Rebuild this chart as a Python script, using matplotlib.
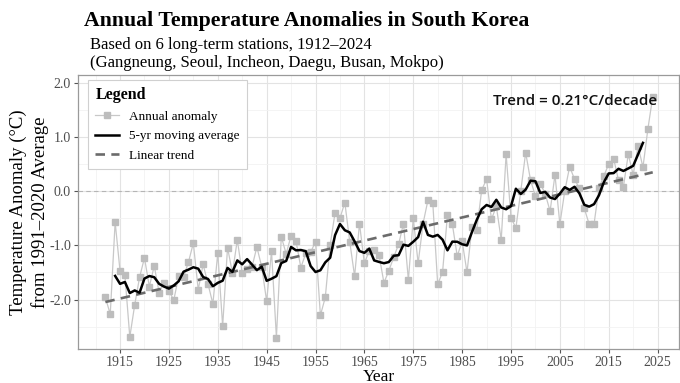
import numpy as np
import pandas as pd
import matplotlib
matplotlib.use('Agg')
import matplotlib.pyplot as plt
from matplotlib.lines import Line2D

# Annual mean temperature anomaly (deg C) vs. 1991-2020 normal, 6-station mean
years = np.arange(1912, 2025)
anomaly = [
    -1.96, -2.27, -0.57, -1.47, -1.55, -2.69, -2.10, -1.59, -1.23, -1.76,  # 1912-1921
    -1.38, -1.87, -1.70, -1.84, -2.01, -1.57, -1.58, -1.31, -0.96, -1.82,  # 1922-1931
    -1.35, -1.71, -2.08, -1.14, -2.49, -1.04, -1.51, -0.90, -1.51, -1.43,  # 1932-1941
    -1.40, -1.03, -1.40, -2.03, -1.11, -2.70, -0.84, -1.16, -0.82, -0.92,  # 1942-1951
    -1.41, -1.15, -1.13, -0.93, -2.29, -1.96, -0.99, -0.40, -0.50, -0.21,  # 1952-1961
    -0.93, -1.57, -0.60, -1.33, -1.10, -1.09, -1.18, -1.69, -1.47, -1.22,  # 1962-1971
    -0.98, -0.60, -1.64, -0.50, -1.33, -0.60, -0.17, -0.22, -1.72, -1.49,  # 1972-1981
    -0.44, -0.61, -1.20, -0.92, -1.50, -0.67, -0.72, 0.02, 0.22, -0.52,    # 1982-1991
    -0.28, -0.90, 0.68, -0.49, -0.68, 0.00, 0.71, 0.20, -0.09, 0.14,       # 1992-2001
    -0.05, -0.37, 0.30, -0.61, 0.00, 0.45, 0.22, 0.05, -0.32, -0.61,       # 2002-2011
    -0.60, 0.05, 0.28, 0.50, 0.60, 0.20, 0.08, 0.68, 0.30, 0.83,           # 2012-2021
    0.44, 1.14, 1.74,                                                      # 2022-2024
]

x_ticks = [1915, 1925, 1935, 1945, 1955, 1965, 1975, 1985, 1995, 2005, 2015, 2025]
y_ticks = [-2.0, -1.0, 0.0, 1.0, 2.0]

series = pd.Series(anomaly, index=years)
ma5 = series.rolling(5, center=True).mean()
slope, intercept = np.polyfit(years, anomaly, 1)
trend = intercept + slope * years

plt.rcParams['font.family'] = ['Liberation Serif', 'DejaVu Serif']

fig = plt.figure(figsize=(6.8, 3.83), dpi=100)
ax = fig.add_axes([0.1147, 0.089, 0.884, 0.715])

# grid
ax.set_xticks(x_ticks)
ax.set_xticks(np.arange(1910, 2031, 10), minor=True)
ax.set_yticks(y_ticks)
ax.set_yticks([-2.5, -1.5, -0.5, 0.5, 1.5], minor=True)
ax.grid(which='major', color='#e3e3e3', linewidth=0.8)
ax.grid(which='minor', color='#f2f2f2', linewidth=0.6)
ax.set_axisbelow(True)

ax.axhline(0, color='#b5b5b5', linewidth=0.8, linestyle=(0, (4, 3)), zorder=1)

ax.plot(years, anomaly, color='#c8c8c8', linewidth=0.9, marker='s',
        markersize=4.3, markerfacecolor='#bdbdbd', markeredgecolor='#bdbdbd', zorder=2)
ax.plot(years, trend, color='#6b6b6b', linewidth=1.9, dashes=(3.6, 2.4), zorder=3)
ax.plot(ma5.index, ma5.values, color='black', linewidth=1.8, zorder=4)

ax.text(2025, 1.67, 'Trend = {:.2f}°C/decade'.format(slope * 10),
        ha='right', va='center', fontsize=11, family=['Open Sans', 'DejaVu Sans'],
        fontweight='semibold', color='#111111')

ax.set_xlim(1906.4, 2029.4)
ax.set_ylim(-2.91, 2.14)
ax.set_xticklabels([str(t) for t in x_ticks])
ax.set_yticklabels(['{:.1f}'.format(t) for t in y_ticks])
ax.tick_params(which='major', length=3, color='#555555', labelcolor='#4d4d4d',
               labelsize=10, pad=2)
ax.tick_params(which='minor', length=0)
for sp in ax.spines.values():
    sp.set_color('#9a9a9a')
    sp.set_linewidth(0.9)

ax.set_xlabel('Year', fontsize=12.5, labelpad=0)
ax.set_ylabel('Temperature Anomaly (°C)\nfrom 1991–2020 Average', fontsize=13.5,
              linespacing=1.3)
ax.yaxis.set_label_coords(-0.049, 0.5)

handles = [
    Line2D([], [], color='#c8c8c8', linewidth=0.9, marker='s', markersize=4.3,
           markerfacecolor='#bdbdbd', markeredgecolor='#bdbdbd'),
    Line2D([], [], color='black', linewidth=1.8),
    Line2D([], [], color='#6b6b6b', linewidth=1.9, dashes=(3.6, 2.4)),
]
leg = ax.legend(handles, ['Annual anomaly', '5-yr moving average', 'Linear trend'],
                loc='upper left', bbox_to_anchor=(0.0166, 0.982), borderaxespad=0,
                title='Legend', alignment='left', frameon=True, fancybox=False,
                fontsize=9.5, title_fontproperties={'weight': 'bold', 'size': 11.5},
                handlelength=1.8, handletextpad=0.75, labelspacing=0.55,
                borderpad=0.55, framealpha=1)
leg.get_frame().set_edgecolor('#d0d0d0')
leg.get_frame().set_linewidth(0.8)

fig.text(0.123, 0.945, 'Annual Temperature Anomalies in South Korea',
         fontsize=15.7, fontweight='bold', ha='left', va='center')
fig.text(0.132, 0.882, 'Based on 6 long-term stations, 1912–2024',
         fontsize=12, ha='left', va='center')
fig.text(0.132, 0.835, '(Gangneung, Seoul, Incheon, Daegu, Busan, Mokpo)',
         fontsize=12, ha='left', va='center')

fig.savefig('out.png', dpi=100)
